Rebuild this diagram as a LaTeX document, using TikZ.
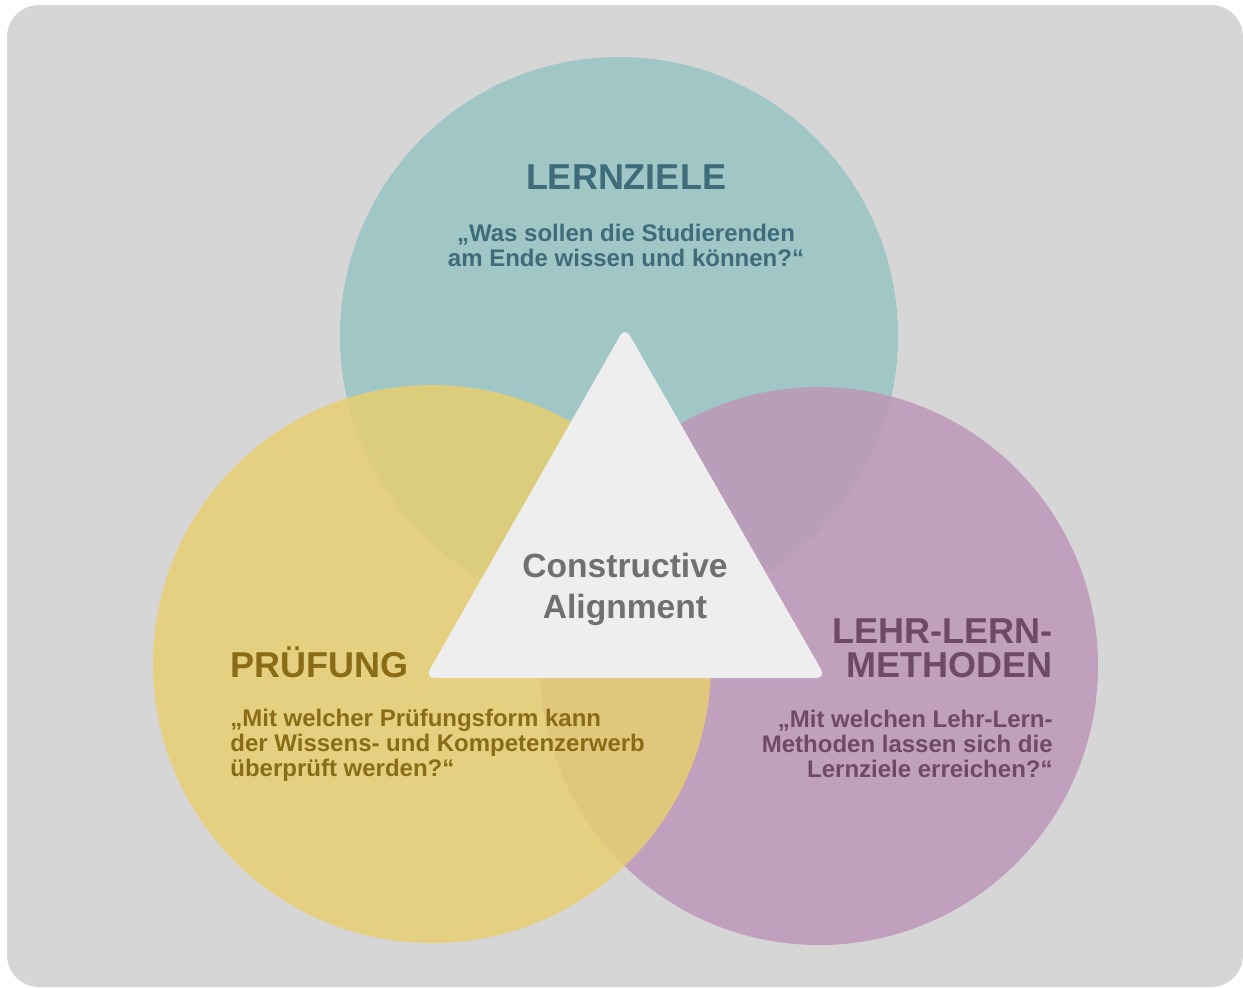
\documentclass[tikz,border=0pt]{standalone}
\usepackage{fontspec}
\setmainfont{Liberation Sans}
\definecolor{bggray}{RGB}{214,214,214}
\definecolor{tealc}{RGB}{160,198,198}
\definecolor{yellowc}{RGB}{231,207,113}
\definecolor{purplec}{RGB}{190,151,185}
\definecolor{trifill}{RGB}{238,238,238}
\definecolor{tealtxt}{RGB}{62,108,122}
\definecolor{goldtxt}{RGB}{139,108,22}
\definecolor{purptxt}{RGB}{110,74,104}
\definecolor{graytxt}{RGB}{112,112,112}
\tikzset{
  title/.style={inner sep=0pt, font=\bfseries\fontsize{18}{18}\selectfont},
  sub/.style={inner sep=0pt, font=\bfseries\fontsize{12}{12.5}\selectfont},
  center/.style={inner sep=0pt, font=\bfseries\fontsize{16.8}{16.8}\selectfont, text=graytxt},
}
\begin{document}
\begin{tikzpicture}[x=0.5pt,y=-0.5pt]
\useasboundingbox (0,0) rectangle (1243,987);
\fill[bggray, rounded corners=16pt] (7,5) rectangle (1243,987);
% circles
\fill[tealc] (619,336) circle[radius=279];
\fill[purplec, opacity=0.85] (819,666) circle[radius=279];
\fill[yellowc, opacity=0.85] (432,664) circle[radius=279];
% triangle
\fill[trifill, rounded corners=5pt] (625,327) -- (826,678) -- (425,678) -- cycle;
% texts
\node[title, text=tealtxt, anchor=base] (lz) at (626,189) {LERNZIELE};
\node[sub, text=tealtxt, anchor=base] (lz1) at (626,241) {„Was sollen die Studierenden};
\node[sub, text=tealtxt, anchor=base] (lz2) at (626,266) {am Ende wissen und können?“};
\node[center, anchor=base] (ca1) at (625,577) {Constructive};
\node[center, anchor=base] (ca2) at (625,618) {Alignment};
\node[title, text=goldtxt, anchor=base west] (pr) at (230,677) {PRÜFUNG};
\node[sub, text=goldtxt, anchor=base west] (pr1) at (230,726) {„Mit welcher Prüfungsform kann};
\node[sub, text=goldtxt, anchor=base west] (pr2) at (230,751) {der Wissens- und Kompetenzerwerb};
\node[sub, text=goldtxt, anchor=base west] (pr3) at (230,776) {überprüft werden?“};
\node[title, text=purptxt, anchor=base east] (lm1) at (1053,643) {LEHR-LERN-};
\node[title, text=purptxt, anchor=base east] (lm2) at (1053,677) {METHODEN};
\node[sub, text=purptxt, anchor=base east] (lm3) at (1053,727) {„Mit welchen Lehr-Lern-};
\node[sub, text=purptxt, anchor=base east] (lm4) at (1053,752) {Methoden lassen sich die};
\node[sub, text=purptxt, anchor=base east] (lm5) at (1053,777) {Lernziele erreichen?“};
\end{tikzpicture}
\end{document}
